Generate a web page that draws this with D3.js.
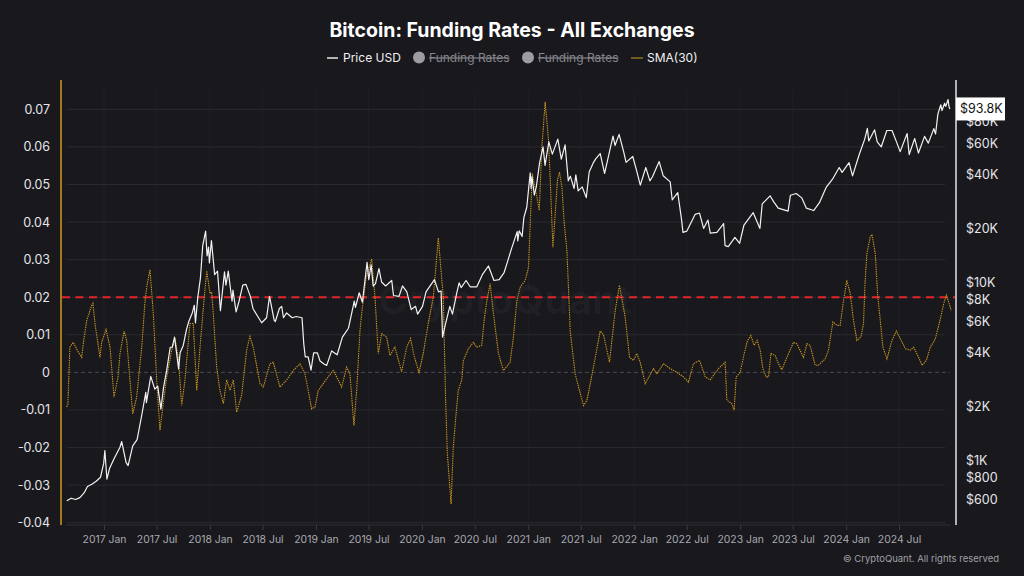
<!DOCTYPE html>
<html><head><meta charset="utf-8">
<script src="https://cdn.jsdelivr.net/npm/d3@7"></script>
<style>
html,body{margin:0;padding:0;background:#18181d;}
svg{display:block;font-family:Inter,"Noto Sans",sans-serif;}
</style></head>
<body>
<svg id="chart" width="1024" height="576"></svg>
<script>
// ---------------- DATA ----------------
const titleText = "Bitcoin: Funding Rates - All Exchanges";
const legendLabels = ["Price USD", "Funding Rates", "Funding Rates", "SMA(30)"];
const fundingTicks = [0.07,0.06,0.05,0.04,0.03,0.02,0.01,0,-0.01,-0.02,-0.03,-0.04];
const priceTicks = [600,800,1000,2000,4000,6000,8000,10000,20000,40000,60000,80000];
const priceTickLabels = ["$600","$800","$1K","$2K","$4K","$6K","$8K","$10K","$20K","$40K","$60K","$80K"];
const lastPriceLabel = "$93.8K";
const thresholdValue = 0.02;
const xTickDates = ["2017-01-01","2017-07-01","2018-01-01","2018-07-01","2019-01-01","2019-07-01","2020-01-01","2020-07-01","2021-01-01","2021-07-01","2022-01-01","2022-07-01","2023-01-01","2023-07-01","2024-01-01","2024-07-01"];

const priceDates = ["2016-08-26","2016-09-10","2016-09-25","2016-10-10","2016-10-25","2016-11-05","2016-11-20","2016-12-05","2016-12-20","2016-12-31",
"2017-01-04","2017-01-11","2017-01-20","2017-02-05","2017-02-25","2017-03-03","2017-03-18","2017-03-25","2017-04-10","2017-04-25","2017-05-10","2017-05-25","2017-05-27","2017-06-11","2017-06-25","2017-07-05","2017-07-16","2017-07-25","2017-08-05","2017-08-17","2017-08-24","2017-09-01","2017-09-15","2017-09-20","2017-10-01","2017-10-12","2017-10-20","2017-11-01","2017-11-08","2017-11-12","2017-11-20","2017-11-29","2017-12-07","2017-12-17","2017-12-22","2017-12-27","2017-12-30",
"2018-01-06","2018-01-17","2018-01-27","2018-02-06","2018-02-20","2018-02-25","2018-03-05","2018-03-18","2018-03-21","2018-04-01","2018-04-12","2018-04-24","2018-05-05","2018-05-20","2018-05-29","2018-06-12","2018-06-28","2018-07-15","2018-07-25","2018-08-10","2018-08-14","2018-08-28","2018-09-05","2018-09-11","2018-09-22","2018-10-11","2018-10-25","2018-11-14","2018-11-20","2018-11-25","2018-12-05","2018-12-15","2018-12-24",
"2019-01-06","2019-01-15","2019-01-30","2019-02-07","2019-02-24","2019-03-15","2019-04-02","2019-04-23","2019-05-13","2019-05-17","2019-05-30","2019-06-10","2019-06-26","2019-07-02","2019-07-10","2019-07-17","2019-07-25","2019-08-06","2019-08-15","2019-08-29","2019-09-19","2019-09-25","2019-10-14","2019-10-26","2019-11-10","2019-11-25","2019-12-10","2019-12-17",
"2020-01-03","2020-01-15","2020-02-13","2020-02-27","2020-03-07","2020-03-12","2020-03-22","2020-04-06","2020-04-15","2020-04-30","2020-05-08","2020-05-15","2020-06-01","2020-06-15","2020-07-08","2020-07-27","2020-08-17","2020-09-05","2020-09-23","2020-10-10","2020-10-21","2020-11-05","2020-11-24","2020-11-26","2020-12-01","2020-12-11","2020-12-17","2020-12-27",
"2021-01-08","2021-01-11","2021-01-14","2021-01-22","2021-01-29","2021-02-09","2021-02-21","2021-02-28","2021-03-13","2021-03-25","2021-04-13","2021-04-25","2021-05-08","2021-05-19","2021-05-26","2021-06-08","2021-06-14","2021-06-22","2021-07-06","2021-07-20","2021-07-30","2021-08-14","2021-08-22","2021-09-06","2021-09-21","2021-10-01","2021-10-20","2021-10-27","2021-11-10","2021-11-26","2021-12-04","2021-12-27",
"2022-01-10","2022-01-22","2022-02-10","2022-02-24","2022-03-05","2022-03-28","2022-04-11","2022-05-05","2022-05-12","2022-05-31","2022-06-13","2022-06-18","2022-07-01","2022-07-30","2022-08-14","2022-08-28","2022-09-12","2022-09-20","2022-10-13","2022-11-05","2022-11-10","2022-11-21","2022-12-14","2022-12-30",
"2023-01-14","2023-02-15","2023-03-10","2023-03-18","2023-04-14","2023-04-26","2023-05-12","2023-06-15","2023-06-23","2023-07-13","2023-08-01","2023-08-17","2023-09-11","2023-10-01","2023-10-24","2023-11-15","2023-12-08","2023-12-18",
"2024-01-11","2024-01-23","2024-02-15","2024-03-05","2024-03-14","2024-03-19","2024-04-08","2024-04-17","2024-05-01","2024-05-20","2024-06-07","2024-06-24","2024-07-05","2024-07-29","2024-08-05","2024-08-24","2024-09-06","2024-09-27","2024-10-10","2024-10-29","2024-11-04","2024-11-12","2024-11-22","2024-11-26","2024-12-05","2024-12-09","2024-12-17","2024-12-20","2024-12-23"];
const priceValues = [590,610,600,615,655,710,730,760,800,960,
1130,780,895,1020,1180,1270,970,930,1200,1300,1750,2400,2100,2950,2500,2600,1930,2550,3200,4300,4300,4900,3250,4000,4400,5400,6000,6700,7400,5900,8200,10500,16000,19300,14000,15700,12800,
17100,11000,11500,6900,11400,9600,11500,7800,9000,6800,7900,9600,9700,8300,7100,6500,5900,6300,8300,6100,6000,7100,7300,6300,6700,6300,6400,6300,4500,3800,3800,3200,4000,
4000,3600,3450,3400,4100,3900,4900,5500,7800,7200,8700,7700,12900,10300,12500,9500,9800,11900,10000,9500,10200,8400,8300,9500,8800,7000,7300,6600,
7300,8800,10300,8800,8900,4900,5800,7300,6600,8700,9900,9300,10200,9400,9400,11000,12300,10200,10300,11300,12900,15500,19200,17000,19400,18000,23000,26300,
41000,33500,39000,30800,34300,46500,57500,45200,61200,52300,63500,49000,58900,37000,39300,33500,40000,32500,34200,29800,41500,47000,49300,52700,40700,48000,66000,58500,67500,53700,47000,50700,
41800,35000,44000,37000,39000,47500,39500,36500,28900,31800,22500,19000,19300,24000,24400,20000,22300,18800,19000,21300,16000,15800,17800,16500,
20900,24500,20000,27500,30500,28300,26000,25000,30700,31400,29700,26000,25200,27900,34000,37800,44000,41300,
46800,39500,52000,63500,73000,62000,71600,61200,57500,71000,71000,60300,54000,68200,52000,64000,53000,65800,60300,72700,67800,88000,99000,91900,101000,97000,106000,97000,93800];

// funding rate SMA(30): dates as decimal years
const fundingDates = [2016.648,2016.660,2016.679,2016.710,2016.758,2016.790,2016.805,2016.837,2016.884,2016.896,2016.915,2016.962,2016.978,
2017.019,2017.057,2017.094,2017.132,2017.151,2017.189,2017.214,2017.245,2017.271,2017.308,2017.356,2017.387,2017.408,2017.434,2017.465,2017.497,2017.528,2017.559,2017.592,2017.639,2017.670,2017.701,2017.733,2017.764,2017.811,2017.842,2017.875,2017.906,2017.943,2017.969,
2018.000,2018.016,2018.031,2018.063,2018.094,2018.126,2018.158,2018.189,2018.220,2018.252,2018.299,2018.346,2018.377,2018.408,2018.472,2018.503,2018.566,2018.597,2018.660,2018.724,2018.786,2018.849,2018.896,2018.927,2018.959,2018.991,
2019.022,2019.069,2019.101,2019.163,2019.210,2019.242,2019.290,2019.321,2019.358,2019.384,2019.415,2019.431,2019.472,2019.525,2019.557,2019.588,2019.620,2019.667,2019.698,2019.745,2019.808,2019.856,2019.893,2019.925,2019.972,
2020.012,2020.059,2020.107,2020.154,2020.201,2020.208,2020.222,2020.239,2020.274,2020.295,2020.321,2020.342,2020.375,2020.390,2020.437,2020.484,2020.516,2020.563,2020.585,2020.610,2020.642,2020.673,2020.720,2020.767,2020.830,2020.861,2020.893,2020.925,2020.972,
2021.003,2021.038,2021.082,2021.104,2021.129,2021.160,2021.192,2021.208,2021.233,2021.255,2021.276,2021.295,2021.318,2021.340,2021.365,2021.390,2021.396,2021.443,2021.475,2021.522,2021.554,2021.616,2021.679,2021.710,2021.767,2021.821,2021.861,2021.915,2021.956,2021.993,
2022.025,2022.057,2022.104,2022.182,2022.214,2022.276,2022.340,2022.403,2022.465,2022.512,2022.559,2022.616,2022.670,2022.717,2022.795,2022.858,2022.874,2022.921,2022.943,2022.962,
2023.000,2023.038,2023.069,2023.101,2023.132,2023.160,2023.189,2023.214,2023.245,2023.268,2023.290,2023.330,2023.361,2023.393,2023.441,2023.503,2023.535,2023.597,2023.629,2023.660,2023.708,2023.739,2023.802,2023.833,2023.875,2023.912,2023.943,2023.975,
2024.006,2024.038,2024.069,2024.101,2024.139,2024.163,2024.179,2024.195,2024.226,2024.243,2024.274,2024.295,2024.321,2024.346,2024.384,2024.431,2024.472,2024.509,2024.557,2024.604,2024.635,2024.682,2024.714,2024.755,2024.792,2024.840,2024.887,2024.918,2024.943,2024.965,2024.988];
const fundingValues = [-0.0092,-0.0085,0.0067,0.0080,0.0054,0.0040,0.0077,0.0138,0.0178,0.0184,0.0130,0.0040,0.0080,
0.0114,0.0067,-0.0066,-0.0012,0.0050,0.0110,0.0085,-0.0020,-0.0110,-0.0066,0.0067,0.0190,0.0236,0.0273,0.0157,-0.0020,-0.0154,-0.0083,-0.0012,0.0059,0.0090,0.0040,-0.0088,-0.0020,0.0130,0.0130,-0.0048,0.0067,0.0190,0.0270,
0.0210,0.0214,0.0157,0.0014,-0.0048,-0.0083,-0.0020,-0.0048,-0.0020,-0.0106,-0.0060,0.0059,0.0096,0.0067,-0.0030,-0.0039,0.0023,0.0027,-0.0039,-0.0020,0.0005,0.0023,-0.0004,-0.0048,-0.0097,-0.0092,
-0.0048,-0.0030,-0.0017,0.0005,-0.0020,-0.0039,0.0014,-0.0004,-0.0141,-0.0048,0.0110,0.0156,0.0250,0.0302,0.0200,0.0050,0.0103,0.0094,0.0045,0.0067,0.0001,0.0067,0.0090,0.0045,0.0000,
0.0050,0.0130,0.0200,0.0358,0.0200,0.0110,-0.0066,-0.0216,-0.0350,-0.0199,-0.0110,-0.0048,-0.0020,0.0032,0.0063,0.0080,0.0067,0.0072,0.0138,0.0190,0.0236,0.0156,0.0050,0.0005,0.0027,0.0094,0.0190,0.0227,0.0245,
0.0280,0.0529,0.0467,0.0431,0.0600,0.0719,0.0617,0.0511,0.0333,0.0422,0.0511,0.0533,0.0493,0.0396,0.0325,0.0156,0.0110,-0.0004,-0.0039,-0.0088,-0.0075,0.0014,0.0110,0.0100,0.0027,0.0165,0.0232,0.0147,0.0040,0.0032,
0.0050,0.0027,-0.0030,0.0010,-0.0004,0.0023,0.0010,0.0000,-0.0012,-0.0026,0.0023,0.0032,-0.0012,-0.0020,0.0010,0.0027,-0.0074,-0.0083,-0.0101,-0.0012,
0.0000,0.0050,0.0085,0.0098,0.0072,0.0085,0.0059,0.0010,-0.0012,-0.0012,0.0050,0.0045,0.0023,0.0007,0.0040,0.0080,0.0076,0.0040,0.0076,0.0072,0.0019,0.0019,0.0036,0.0059,0.0134,0.0125,0.0125,0.0190,
0.0245,0.0210,0.0138,0.0085,0.0094,0.0130,0.0245,0.0316,0.0360,0.0367,0.0316,0.0210,0.0138,0.0067,0.0036,0.0085,0.0110,0.0090,0.0063,0.0059,0.0067,0.0040,0.0019,0.0032,0.0067,0.0090,0.0143,0.0183,0.0205,0.0187,0.0165];

// ---------------- HELPERS ----------------
const parse = d3.timeParse("%Y-%m-%d");
function decYear(t){
  const y = Math.floor(t);
  const a = new Date(y,0,1), b = new Date(y+1,0,1);
  return new Date(a.getTime() + (t - y) * (b - a));
}
const priceData = priceDates.map((d,i)=>({date:parse(d), v:priceValues[i]}));
const fundingData = fundingDates.map((t,i)=>({date:decYear(t), v:fundingValues[i]}));

// ---------------- LAYOUT ----------------
const svg = d3.select("#chart");
const L = 61, R = 956, T = 80, B = 525;
const bg = "#18181d";
const FONT = "Inter,'Noto Sans',sans-serif";

const x = d3.scaleTime()
  .domain([parse("2017-01-01"), parse("2024-07-01")])
  .range([104, 899]);
const yF = d3.scaleLinear().domain([-0.04, 0.07]).range([522.7, 109.3]);
const yP = d3.scaleLog().domain([1000, 10000]).range([460, 282]);

svg.append("rect").attr("width",1024).attr("height",576).attr("fill",bg);

// title
svg.append("text").attr("x",512).attr("y",37).attr("text-anchor","middle")
  .attr("fill","#ffffff").attr("font-size",19.5).attr("font-weight",700).text(titleText);

// legend
const lg = svg.append("g").attr("font-size",12);
lg.append("line").attr("x1",327).attr("x2",338).attr("y1",58).attr("y2",58).attr("stroke","#e8e8e8").attr("stroke-width",1.5);
lg.append("text").attr("x",343).attr("y",62).attr("fill","#f0f0f0").text(legendLabels[0]);
[[419,429],[528,538]].forEach((p,i)=>{
  lg.append("circle").attr("cx",p[0]).attr("cy",57.5).attr("r",6).attr("fill","#9c9ca2");
  lg.append("text").attr("x",p[1]).attr("y",62).attr("fill","#85858b")
    .attr("text-decoration","line-through").text(legendLabels[1+i]);
});
lg.append("line").attr("x1",631).attr("x2",643).attr("y1",58).attr("y2",58).attr("stroke","#8a7222").attr("stroke-width",1.5);
lg.append("text").attr("x",647).attr("y",62).attr("fill","#f0f0f0").text(legendLabels[3]);

// vertical faint grid
const xTicks = xTickDates.map(parse);
svg.append("g").selectAll("line").data(xTicks).join("line")
  .attr("x1",d=>x(d)).attr("x2",d=>x(d)).attr("y1",T+10).attr("y2",B)
  .attr("stroke","#1e1e24").attr("stroke-width",1);

// horizontal grid
svg.append("g").selectAll("line").data(fundingTicks.filter(v=>v!==0)).join("line")
  .attr("x1",67).attr("x2",945).attr("y1",d=>yF(d)).attr("y2",d=>yF(d))
  .attr("stroke","#2a2a30").attr("stroke-width",1);
svg.append("line").attr("x1",67).attr("x2",950).attr("y1",yF(0)).attr("y2",yF(0))
  .attr("stroke","#4a4a52").attr("stroke-width",1).attr("stroke-dasharray","4,3");

// watermark
svg.append("text").attr("x",505).attr("y",314).attr("text-anchor","middle")
  .attr("font-size",40).attr("font-weight",700).attr("fill","#ffffff").attr("fill-opacity",0.035)
  .text("CryptoQuant");

// bottom axis
const xAxis = d3.axisBottom(x).tickValues(xTicks).tickFormat(d3.timeFormat("%Y %b")).tickSize(5).tickPadding(6);
const gx = svg.append("g").attr("transform",`translate(0,${B})`).call(xAxis);
gx.select(".domain").remove();
gx.selectAll(".tick line").attr("stroke","#3a3a42");
gx.selectAll(".tick text").attr("fill","#a9a9b0").attr("font-size",10.4).attr("font-family",FONT);
svg.append("line").attr("x1",66).attr("x2",950).attr("y1",B).attr("y2",B).attr("stroke","#2e2e35");

// left axis
const yAxisL = d3.axisLeft(yF).tickValues(fundingTicks).tickFormat(v=>v===0?"0":v.toFixed(2)).tickSize(0).tickPadding(11);
const gl = svg.append("g").attr("transform",`translate(${L},0)`).call(yAxisL);
gl.select(".domain").remove();
gl.selectAll(".tick text").attr("fill","#e6e6ea").attr("font-size",12.5).attr("font-family",FONT);
svg.append("line").attr("x1",L).attr("x2",L).attr("y1",T).attr("y2",B).attr("stroke","#c8921f").attr("stroke-width",1.6);

// right axis
const yAxisR = d3.axisRight(yP).tickValues(priceTicks).tickFormat((d,i)=>priceTickLabels[i]).tickSize(0).tickPadding(10);
const gr = svg.append("g").attr("transform",`translate(${R},0)`).call(yAxisR);
gr.select(".domain").remove();
gr.selectAll(".tick text").attr("fill","#e6e6ea").attr("font-size",12.5).attr("font-family",FONT);
svg.append("line").attr("x1",R).attr("x2",R).attr("y1",T).attr("y2",B).attr("stroke","#d8d8dc").attr("stroke-width",1.6);

// threshold line
svg.append("line").attr("x1",L+1).attr("x2",R-1).attr("y1",yF(thresholdValue)).attr("y2",yF(thresholdValue))
  .attr("stroke","#e1252b").attr("stroke-width",2).attr("stroke-dasharray","8,5.5");

// SMA line
svg.append("path").datum(fundingData)
  .attr("d", d3.line().x(d=>x(d.date)).y(d=>yF(d.v)))
  .attr("fill","none").attr("stroke","#c9951f").attr("stroke-width",1.1).attr("stroke-dasharray","1.4,0.9");

// price line
svg.append("path").datum(priceData)
  .attr("d", d3.line().x(d=>x(d.date)).y(d=>yP(d.v)))
  .attr("fill","none").attr("stroke","#f2f2f2").attr("stroke-width",1.2).attr("stroke-linejoin","round");

// last price label
const last = priceData[priceData.length-1];
const ly = yP(last.v);
svg.append("rect").attr("x",R).attr("y",ly-11.5).attr("width",49).attr("height",23).attr("fill","#ffffff");
svg.append("text").attr("x",R+4).attr("y",ly+4.5).attr("fill","#111").attr("font-size",12.5).text(lastPriceLabel);

// copyright
svg.append("text").attr("x",999).attr("y",562).attr("text-anchor","end").attr("fill","#a0a0a6")
  .attr("font-size",9.5).text("© CryptoQuant. All rights reserved");
</script>
</body></html>
